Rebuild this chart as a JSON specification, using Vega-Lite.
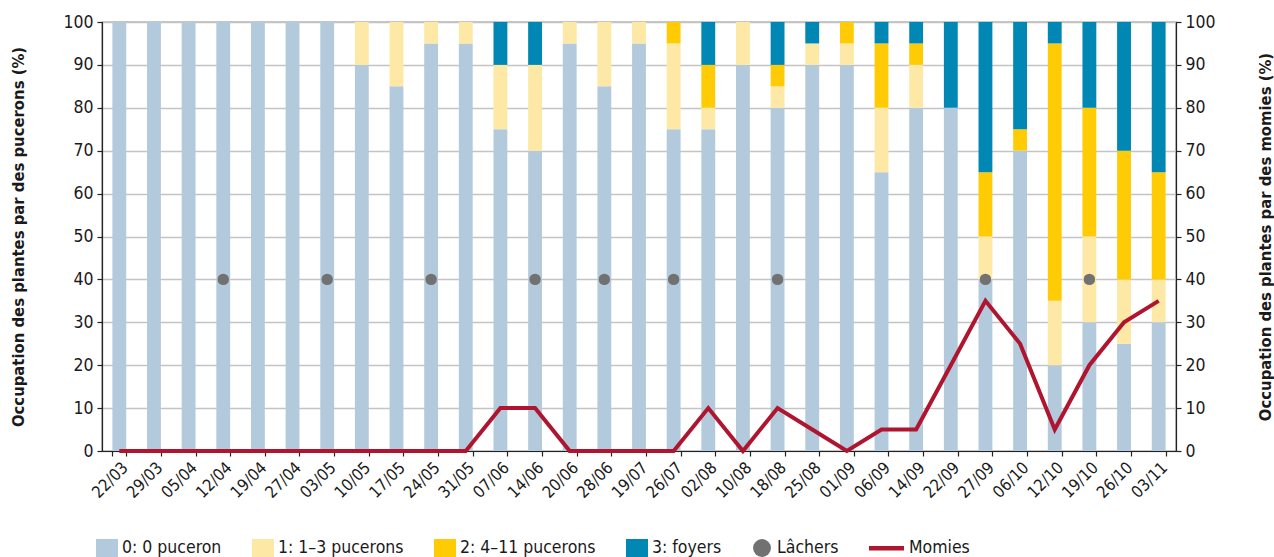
{
  "$schema": "https://vega.github.io/schema/vega-lite/v6.json",
  "autosize": "none",
  "width": 1074,
  "height": 429,
  "padding": {"left": 102, "top": 22, "right": 98, "bottom": 106},
  "config": {
    "font": "DejaVu Sans Condensed, Liberation Sans, sans-serif",
    "view": {"stroke": "#222", "strokeWidth": 1.2},
    "axis": {"labelFont": "DejaVu Sans Condensed, Liberation Sans, sans-serif", "titleFont": "DejaVu Sans Condensed, Liberation Sans, sans-serif", "labelColor": "#1a1a1a", "titleColor": "#1a1a1a", "domainColor": "#222", "tickColor": "#222", "domainWidth": 1.2, "tickWidth": 1.2},
    "legend": {"labelFont": "DejaVu Sans Condensed, Liberation Sans, sans-serif"}
  },
  "datasets": {
    "bars": [
      {"date": "22/03", "c": "0: 0 puceron", "v": 100},
      {"date": "29/03", "c": "0: 0 puceron", "v": 100},
      {"date": "05/04", "c": "0: 0 puceron", "v": 100},
      {"date": "12/04", "c": "0: 0 puceron", "v": 100},
      {"date": "19/04", "c": "0: 0 puceron", "v": 100},
      {"date": "27/04", "c": "0: 0 puceron", "v": 100},
      {"date": "03/05", "c": "0: 0 puceron", "v": 100},
      {"date": "10/05", "c": "0: 0 puceron", "v": 90},
      {"date": "10/05", "c": "1: 1–3 pucerons", "v": 10},
      {"date": "17/05", "c": "0: 0 puceron", "v": 85},
      {"date": "17/05", "c": "1: 1–3 pucerons", "v": 15},
      {"date": "24/05", "c": "0: 0 puceron", "v": 95},
      {"date": "24/05", "c": "1: 1–3 pucerons", "v": 5},
      {"date": "31/05", "c": "0: 0 puceron", "v": 95},
      {"date": "31/05", "c": "1: 1–3 pucerons", "v": 5},
      {"date": "07/06", "c": "0: 0 puceron", "v": 75},
      {"date": "07/06", "c": "1: 1–3 pucerons", "v": 15},
      {"date": "07/06", "c": "3: foyers", "v": 10},
      {"date": "14/06", "c": "0: 0 puceron", "v": 70},
      {"date": "14/06", "c": "1: 1–3 pucerons", "v": 20},
      {"date": "14/06", "c": "3: foyers", "v": 10},
      {"date": "20/06", "c": "0: 0 puceron", "v": 95},
      {"date": "20/06", "c": "1: 1–3 pucerons", "v": 5},
      {"date": "28/06", "c": "0: 0 puceron", "v": 85},
      {"date": "28/06", "c": "1: 1–3 pucerons", "v": 15},
      {"date": "19/07", "c": "0: 0 puceron", "v": 95},
      {"date": "19/07", "c": "1: 1–3 pucerons", "v": 5},
      {"date": "26/07", "c": "0: 0 puceron", "v": 75},
      {"date": "26/07", "c": "1: 1–3 pucerons", "v": 20},
      {"date": "26/07", "c": "2: 4–11 pucerons", "v": 5},
      {"date": "02/08", "c": "0: 0 puceron", "v": 75},
      {"date": "02/08", "c": "1: 1–3 pucerons", "v": 5},
      {"date": "02/08", "c": "2: 4–11 pucerons", "v": 10},
      {"date": "02/08", "c": "3: foyers", "v": 10},
      {"date": "10/08", "c": "0: 0 puceron", "v": 90},
      {"date": "10/08", "c": "1: 1–3 pucerons", "v": 10},
      {"date": "18/08", "c": "0: 0 puceron", "v": 80},
      {"date": "18/08", "c": "1: 1–3 pucerons", "v": 5},
      {"date": "18/08", "c": "2: 4–11 pucerons", "v": 5},
      {"date": "18/08", "c": "3: foyers", "v": 10},
      {"date": "25/08", "c": "0: 0 puceron", "v": 90},
      {"date": "25/08", "c": "1: 1–3 pucerons", "v": 5},
      {"date": "25/08", "c": "3: foyers", "v": 5},
      {"date": "01/09", "c": "0: 0 puceron", "v": 90},
      {"date": "01/09", "c": "1: 1–3 pucerons", "v": 5},
      {"date": "01/09", "c": "2: 4–11 pucerons", "v": 5},
      {"date": "06/09", "c": "0: 0 puceron", "v": 65},
      {"date": "06/09", "c": "1: 1–3 pucerons", "v": 15},
      {"date": "06/09", "c": "2: 4–11 pucerons", "v": 15},
      {"date": "06/09", "c": "3: foyers", "v": 5},
      {"date": "14/09", "c": "0: 0 puceron", "v": 80},
      {"date": "14/09", "c": "1: 1–3 pucerons", "v": 10},
      {"date": "14/09", "c": "2: 4–11 pucerons", "v": 5},
      {"date": "14/09", "c": "3: foyers", "v": 5},
      {"date": "22/09", "c": "0: 0 puceron", "v": 80},
      {"date": "22/09", "c": "3: foyers", "v": 20},
      {"date": "27/09", "c": "0: 0 puceron", "v": 40},
      {"date": "27/09", "c": "1: 1–3 pucerons", "v": 10},
      {"date": "27/09", "c": "2: 4–11 pucerons", "v": 15},
      {"date": "27/09", "c": "3: foyers", "v": 35},
      {"date": "06/10", "c": "0: 0 puceron", "v": 70},
      {"date": "06/10", "c": "2: 4–11 pucerons", "v": 5},
      {"date": "06/10", "c": "3: foyers", "v": 25},
      {"date": "12/10", "c": "0: 0 puceron", "v": 20},
      {"date": "12/10", "c": "1: 1–3 pucerons", "v": 15},
      {"date": "12/10", "c": "2: 4–11 pucerons", "v": 60},
      {"date": "12/10", "c": "3: foyers", "v": 5},
      {"date": "19/10", "c": "0: 0 puceron", "v": 30},
      {"date": "19/10", "c": "1: 1–3 pucerons", "v": 20},
      {"date": "19/10", "c": "2: 4–11 pucerons", "v": 30},
      {"date": "19/10", "c": "3: foyers", "v": 20},
      {"date": "26/10", "c": "0: 0 puceron", "v": 25},
      {"date": "26/10", "c": "1: 1–3 pucerons", "v": 15},
      {"date": "26/10", "c": "2: 4–11 pucerons", "v": 30},
      {"date": "26/10", "c": "3: foyers", "v": 30},
      {"date": "03/11", "c": "0: 0 puceron", "v": 30},
      {"date": "03/11", "c": "1: 1–3 pucerons", "v": 10},
      {"date": "03/11", "c": "2: 4–11 pucerons", "v": 25},
      {"date": "03/11", "c": "3: foyers", "v": 35}
    ],
    "lachers": [
      {"date": "12/04", "v": 40},
      {"date": "03/05", "v": 40},
      {"date": "24/05", "v": 40},
      {"date": "14/06", "v": 40},
      {"date": "28/06", "v": 40},
      {"date": "26/07", "v": 40},
      {"date": "18/08", "v": 40},
      {"date": "27/09", "v": 40},
      {"date": "19/10", "v": 40}
    ],
    "momies": [
      {"date": "22/03", "v": 0},
      {"date": "29/03", "v": 0},
      {"date": "05/04", "v": 0},
      {"date": "12/04", "v": 0},
      {"date": "19/04", "v": 0},
      {"date": "27/04", "v": 0},
      {"date": "03/05", "v": 0},
      {"date": "10/05", "v": 0},
      {"date": "17/05", "v": 0},
      {"date": "24/05", "v": 0},
      {"date": "31/05", "v": 0},
      {"date": "07/06", "v": 10},
      {"date": "14/06", "v": 10},
      {"date": "20/06", "v": 0},
      {"date": "28/06", "v": 0},
      {"date": "19/07", "v": 0},
      {"date": "26/07", "v": 0},
      {"date": "02/08", "v": 10},
      {"date": "10/08", "v": 0},
      {"date": "18/08", "v": 10},
      {"date": "25/08", "v": 5},
      {"date": "01/09", "v": 0},
      {"date": "06/09", "v": 5},
      {"date": "14/09", "v": 5},
      {"date": "22/09", "v": 20},
      {"date": "27/09", "v": 35},
      {"date": "06/10", "v": 25},
      {"date": "12/10", "v": 5},
      {"date": "19/10", "v": 20},
      {"date": "26/10", "v": 30},
      {"date": "03/11", "v": 35}
    ]
  },
  "layer": [
    {
      "data": {"name": "bars"},
      "mark": {"type": "bar"},
      "encoding": {
        "x": {
          "field": "date", "type": "ordinal", "sort": null,
          "scale": {
            "domain": ["22/03","29/03","05/04","12/04","19/04","27/04","03/05","10/05","17/05","24/05","31/05","07/06","14/06","20/06","28/06","19/07","26/07","02/08","10/08","18/08","25/08","01/09","06/09","14/09","22/09","27/09","06/10","12/10","19/10","26/10","03/11"],
            "paddingInner": 0.6, "paddingOuter": 0.3
          },
          "axis": {"title": null, "labelAngle": -45, "labelAlign": "right", "labelBaseline": "top", "labelFontSize": 16.5, "labelPadding": 3, "tickBand": "extent", "tickSize": 5, "grid": false}
        },
        "y": {
          "field": "v", "type": "quantitative", "stack": "zero",
          "scale": {"domain": [0, 100], "nice": false},
          "axis": {"title": "Occupation des plantes par des pucerons (%)", "values": [0,10,20,30,40,50,60,70,80,90,100], "grid": true, "gridColor": "#c4c4c4", "gridWidth": 1.3, "tickSize": 5, "labelFontSize": 17.5, "labelPadding": 4, "titleFontSize": 16.5, "titleFontWeight": "bold", "titleX": -84, "titleY": 214.5, "titleAngle": 270, "titleAlign": "center", "titleBaseline": "middle"}
        },
        "color": {
          "field": "c", "type": "nominal",
          "scale": {
            "domain": ["0: 0 puceron", "1: 1–3 pucerons", "2: 4–11 pucerons", "3: foyers", "Lâchers", "Momies"],
            "range": ["#b3cadd", "#fee8a5", "#ffcb05", "#0087b3", "#717171", "#b0152f"]
          },
          "legend": {
            "title": null, "orient": "none", "legendX": -5, "legendY": 516, "direction": "horizontal", "columns": 6,
            "labelFontSize": 17.5, "labelColor": "#1a1a1a", "symbolSize": 400, "labelOffset": 5, "columnPadding": 30,
            "encode": {
              "symbols": {
                "update": {
                  "shape": {"signal": "datum.label === 'Lâchers' ? 'circle' : datum.label === 'Momies' ? 'M-2.5,-0.22H1V0.22H-2.5Z' : 'M-1.1,-0.9H1.1V0.9H-1.1Z'"},
                  "size": {"signal": "datum.label === 'Lâchers' ? 320 : 400"},
                  "fill": {"scale": "color", "field": "value"},
                  "strokeWidth": {"value": 0},
                  "opacity": {"value": 1}
                }
              }
            }
          }
        },
        "order": {"field": "c", "type": "nominal", "sort": "ascending"}
      }
    },
    {
      "data": {"name": "lachers"},
      "mark": {"type": "point", "filled": true, "size": 130, "opacity": 1},
      "encoding": {
        "x": {"field": "date", "type": "ordinal", "sort": null},
        "y": {"field": "v", "type": "quantitative", "scale": {"domain": [0, 100], "nice": false}, "axis": null},
        "color": {"datum": "Lâchers"}
      }
    },
    {
      "data": {"name": "momies"},
      "mark": {"type": "line", "strokeWidth": 4, "strokeJoin": "miter"},
      "encoding": {
        "x": {"field": "date", "type": "ordinal", "sort": null},
        "y": {
          "field": "v", "type": "quantitative",
          "scale": {"domain": [0, 100], "nice": false},
          "axis": {"orient": "right", "title": "Occupation des plantes par des momies (%)", "values": [0,10,20,30,40,50,60,70,80,90,100], "grid": false, "tickSize": 5, "labelFontSize": 17.5, "labelPadding": 4, "titleFontSize": 16.5, "titleFontWeight": "bold", "titleX": 89, "titleY": 214.5, "titleAngle": 270, "titleAlign": "center", "titleBaseline": "middle"}
        },
        "color": {"datum": "Momies"}
      }
    }
  ],
  "resolve": {"scale": {"y": "independent"}}
}
